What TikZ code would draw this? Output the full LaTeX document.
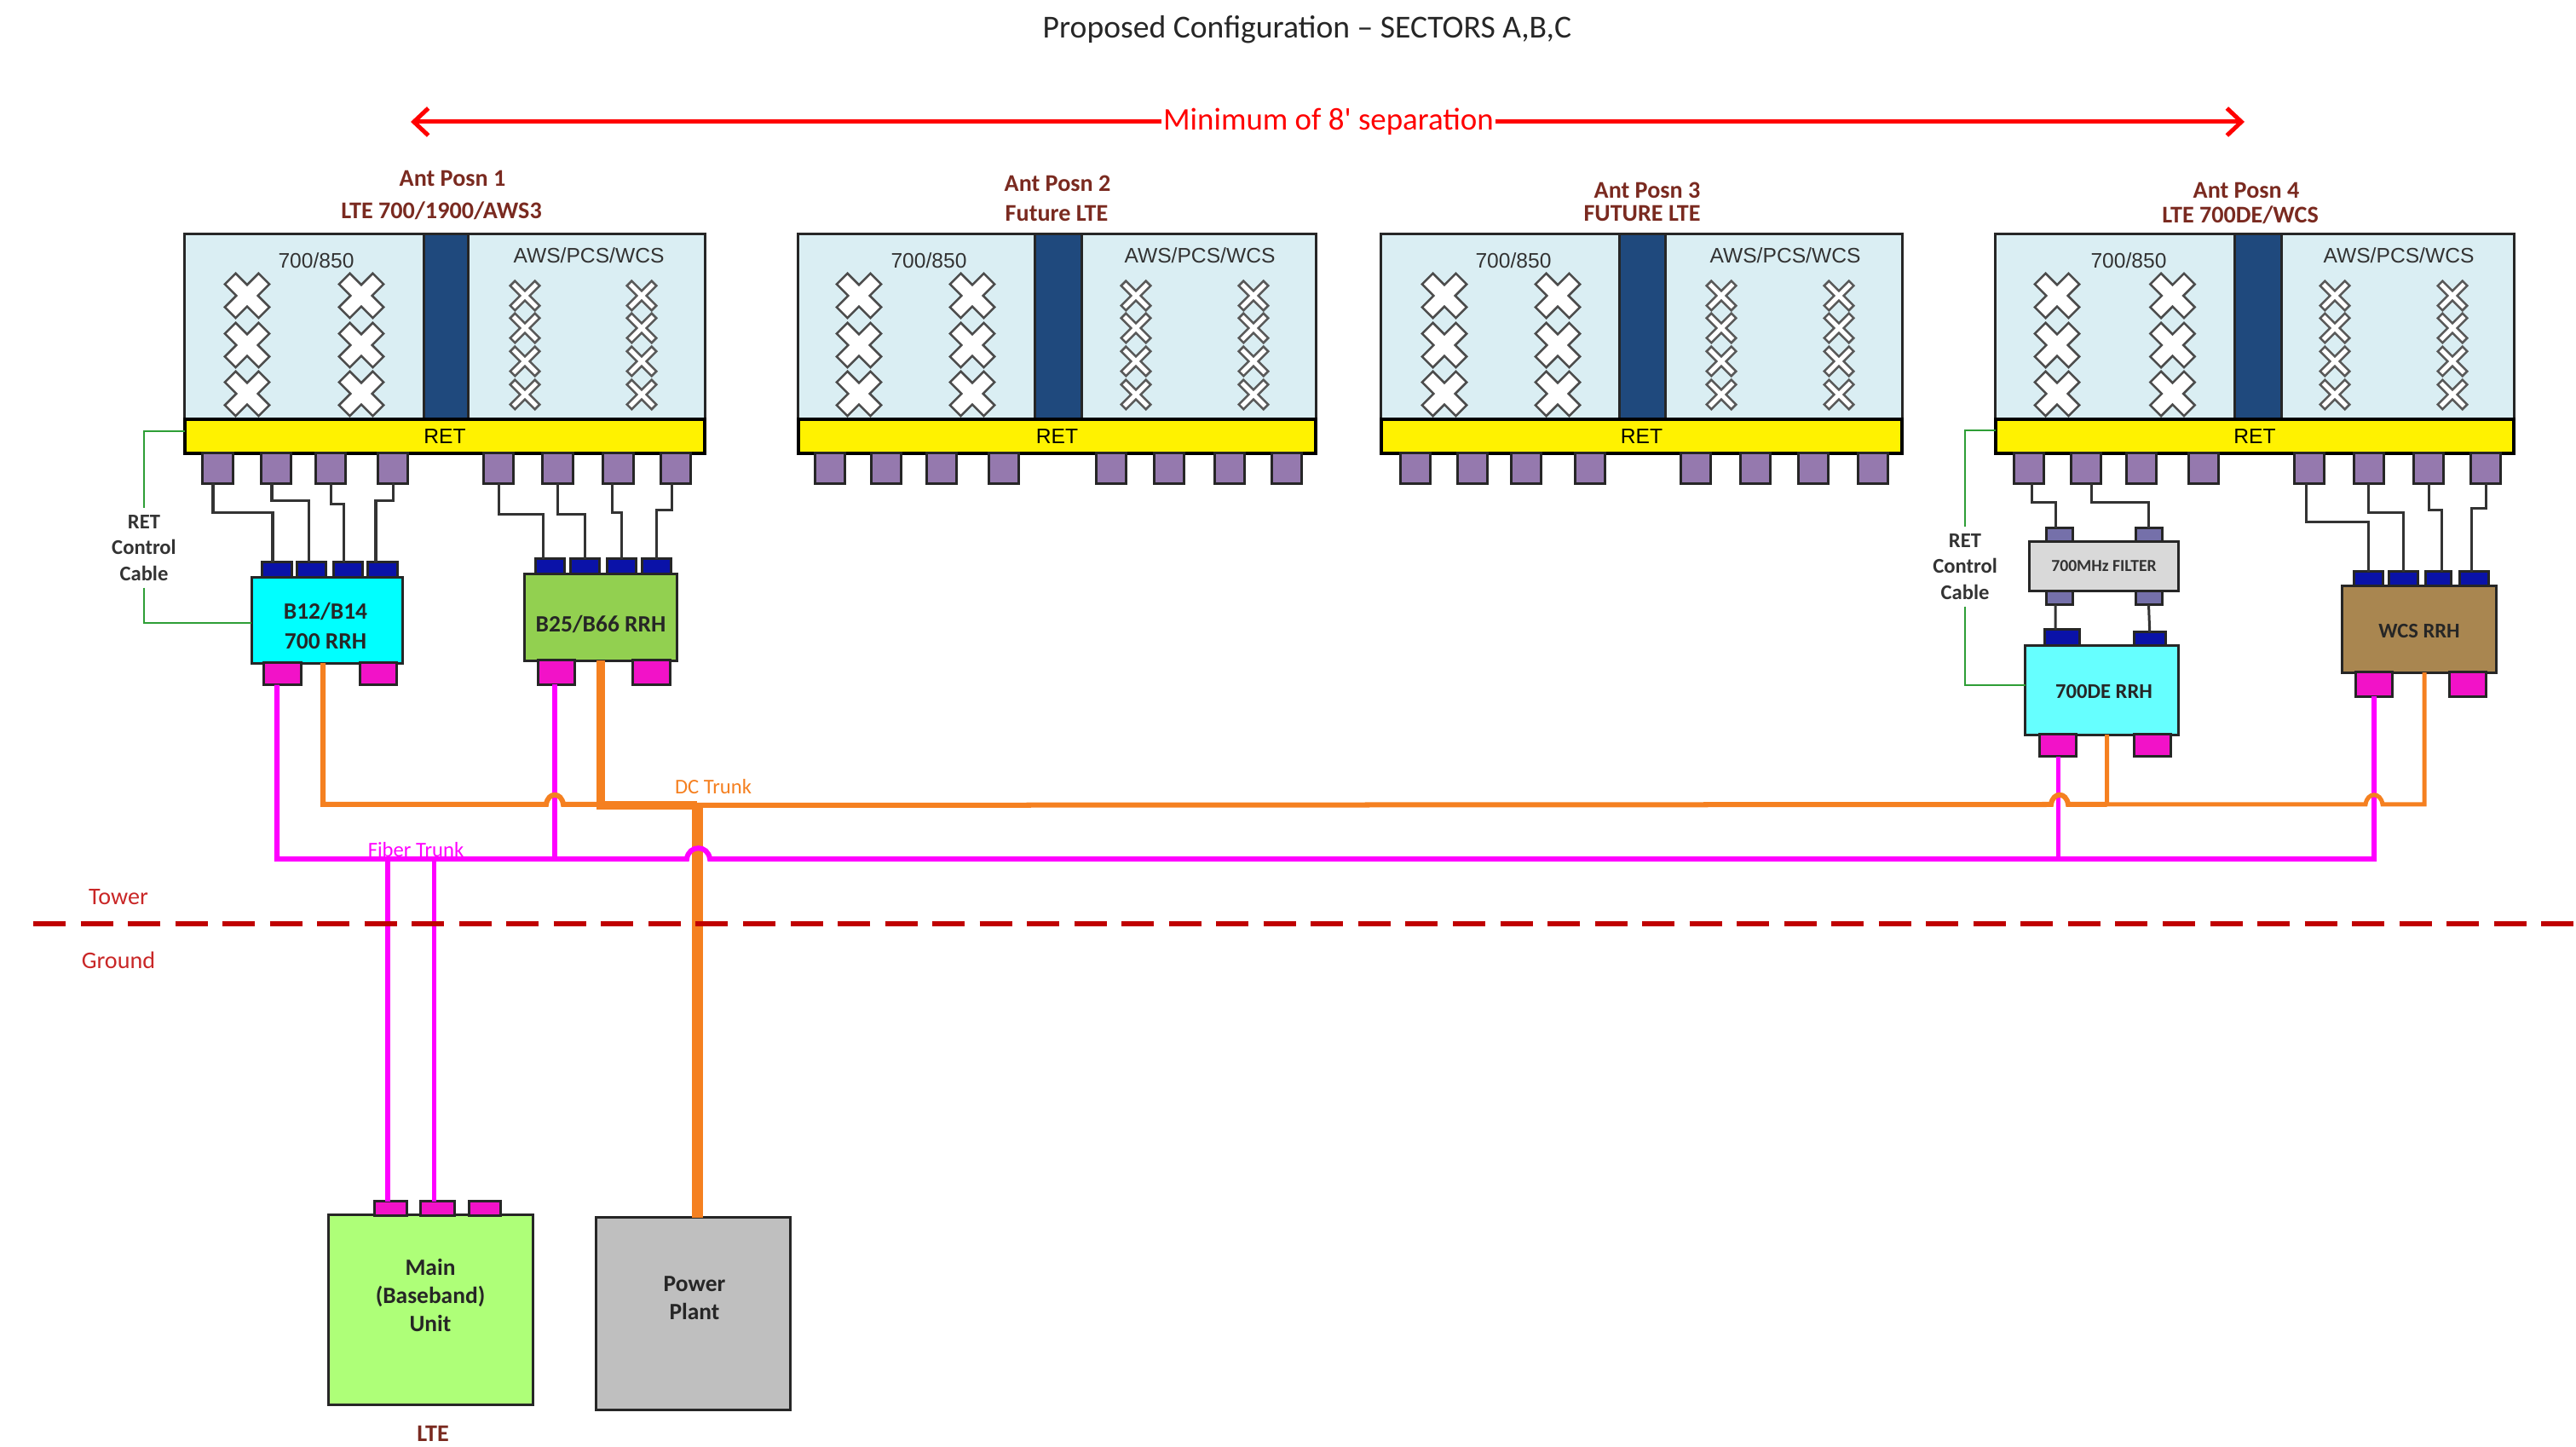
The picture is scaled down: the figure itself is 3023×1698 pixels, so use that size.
\documentclass[tikz,border=0pt]{standalone}
\usepackage{fontspec}
\usepackage{xcolor}
\usetikzlibrary{arrows.meta}
\setmainfont{Carlito}
\newfontfamily\arialfont{Liberation Sans}
\definecolor{panelblue}{HTML}{DAEEF3}
\definecolor{barblue}{HTML}{1F497D}
\definecolor{antpurple}{HTML}{9579AE}
\definecolor{rrhblue}{HTML}{0A12A8}
\definecolor{filterport}{HTML}{7570AA}
\definecolor{rrhcyan}{HTML}{00FFFF}
\definecolor{rrhcyanlt}{HTML}{66FFFF}
\definecolor{rrhgreen}{HTML}{92D050}
\definecolor{rrhbrown}{HTML}{A98650}
\definecolor{bbugreen}{HTML}{AEFF78}
\definecolor{portpink}{HTML}{F212C8}
\definecolor{fiberpink}{HTML}{FF00FF}
\definecolor{dcorange}{HTML}{F58020}
\definecolor{ctlgreen}{HTML}{2E9E36}
\definecolor{titlered}{HTML}{7A2A20}
\definecolor{groundred}{HTML}{C00000}
\definecolor{redline}{HTML}{FF0000}
\tikzset{
  box/.style={rectangle,draw=black!85,line width=.03cm,inner sep=0pt,outer sep=0pt},
  panel/.style={box,fill=panelblue,minimum height=2.17cm},
  bluebar/.style={box,fill=barblue,minimum height=2.17cm},
  retbar/.style={box,fill=yellow,draw=black,line width=.035cm,minimum height=.4cm,font=\arialfont\fontsize{7}{8}\selectfont},
  antport/.style={box,fill=antpurple,minimum width=.35cm,minimum height=.35cm},
  rrhport/.style={box,fill=rrhblue,minimum width=.34cm,minimum height=.18cm},
  fltport/.style={box,fill=filterport,minimum width=.31cm,minimum height=.16cm},
  pinkport/.style={box,fill=portpink,minimum width=.43cm,minimum height=.26cm},
  bandtxt/.style={font=\arialfont\fontsize{7}{8}\selectfont,text=black!80,inner sep=0pt},
  anttxt/.style={font=\fontsize{8}{9}\selectfont\bfseries,text=titlered,inner sep=0pt},
  boxtxt/.style={font=\fontsize{7.8}{9}\selectfont\bfseries,text=black!85,inner sep=0pt},
  cabletxt/.style={font=\fontsize{7}{8.6}\selectfont\bfseries,text=black!80,align=center,inner sep=0pt,minimum height=.92cm},
  sitetxt/.style={font=\fontsize{8}{9}\selectfont,text=groundred!85,inner sep=0pt},
  wire/.style={draw=black!80,line width=.03cm},
  ctl/.style={draw=ctlgreen,line width=.028cm},
  fiber/.style={draw=fiberpink,line width=.06cm},
  fiberthin/.style={draw=fiberpink,line width=.05cm},
  dc/.style={draw=dcorange,line width=.06cm},
  dcthick/.style={draw=dcorange,line width=.1cm},
  bigx/.pic={\draw[fill=white,draw=black!70,line width=.025cm,rotate=45]
    (9,28) -- (-9,28) -- (-9,9) -- (-28,9) -- (-28,-9) -- (-9,-9) -- (-9,-28) -- (9,-28) -- (9,-9) -- (28,-9) -- (28,9) -- (9,9) -- cycle;},
  smallx/.pic={\draw[fill=white,draw=black!65,line width=.025cm,rotate=45]
    (4,20.5) -- (-4,20.5) -- (-4,4) -- (-20.5,4) -- (-20.5,-4) -- (-4,-4) -- (-4,-20.5) -- (4,-20.5) -- (4,-4) -- (20.5,-4) -- (20.5,4) -- (4,4) -- cycle;}
}
\begin{document}
\begin{tikzpicture}[x=.01cm,y=-.01cm]
\useasboundingbox (0,0) rectangle (3023,1698);
\node[inner sep=0pt,font=\fontsize{10.7}{12}\selectfont,text=black!85] (title) at (1534,35) {Proposed Configuration -- SECTORS A,B,C};
\node[inner sep=.5pt,font=\fontsize{10.5}{12}\selectfont,text=redline] (sepn) at (1559,143) {Minimum of 8\textquotesingle{} separation};
\coordinate (sepl) at (482,143);
\coordinate (sepr) at (2634,143);
\draw[redline,line width=.05cm,-{Straight Barb[length=.17cm,width=.32cm]}] (sepn) -- (sepl);
\draw[redline,line width=.05cm,-{Straight Barb[length=.17cm,width=.32cm]}] (sepn) -- (sepr);
% antenna titles
\node[anttxt] (at1a) at (531,209) {Ant Posn 1};
\node[anttxt] (at1b) at (518,247) {LTE 700/1900/AWS3};
\node[anttxt] (at2a) at (1241,215) {Ant Posn 2};
\node[anttxt] (at2b) at (1240,250) {Future LTE};
\node[anttxt] (at3a) at (1933,223) {Ant Posn 3};
\node[anttxt] (at3b) at (1927,250) {FUTURE LTE};
\node[anttxt] (at4a) at (2636,223) {Ant Posn 4};
\node[anttxt] (at4b) at (2629,252) {LTE 700DE/WCS};
% antennas
\node[panel,minimum width=6.1cm] (a1) at (522,383.5) {};
\node[bluebar,minimum width=.51cm] (a1b) at (523.5,383.5) {};
\node[retbar,minimum width=6.1cm] (a1r) at (522,512) {RET};
\node[panel,minimum width=6.07cm] (a2) at (1240.5,383.5) {};
\node[bluebar,minimum width=.54cm] (a2b) at (1242,383.5) {};
\node[retbar,minimum width=6.07cm] (a2r) at (1240.5,512) {RET};
\node[panel,minimum width=6.11cm] (a3) at (1926.5,383.5) {};
\node[bluebar,minimum width=.54cm] (a3b) at (1927,383.5) {};
\node[retbar,minimum width=6.11cm] (a3r) at (1926.5,512) {RET};
\node[panel,minimum width=6.08cm] (a4) at (2646,383.5) {};
\node[bluebar,minimum width=.55cm] (a4b) at (2649.5,383.5) {};
\node[retbar,minimum width=6.08cm] (a4r) at (2646,512) {RET};
\node[bandtxt] (a1lo) at (371,306) {700/850};
\node[bandtxt] (a1hi) at (691,300) {AWS/PCS/WCS};
\node[bandtxt] (a2lo) at (1090,306) {700/850};
\node[bandtxt] (a2hi) at (1408,300) {AWS/PCS/WCS};
\node[bandtxt] (a3lo) at (1776,306) {700/850};
\node[bandtxt] (a3hi) at (2095,300) {AWS/PCS/WCS};
\node[bandtxt] (a4lo) at (2498,306) {700/850};
\node[bandtxt] (a4hi) at (2815,300) {AWS/PCS/WCS};
\foreach \x in {290,424,1008,1141,1695,1828,2414,2549.5}
  \foreach \y in {347,405,462}
    \pic at (\x,\y) {bigx};
\foreach \x in {616,753,1333,1471,2020,2158,2740,2878}
  \foreach \y in {347,385,424,463}
    \pic at (\x,\y) {smallx};
% antenna ports
\node[antport] (a1p1) at (255.5,549.5) {};
\node[antport] (a1p2) at (324,549.5) {};
\node[antport] (a1p3) at (388,549.5) {};
\node[antport] (a1p4) at (461,549.5) {};
\node[antport] (a1p5) at (585,549.5) {};
\node[antport] (a1p6) at (654.5,549.5) {};
\node[antport] (a1p7) at (725.5,549.5) {};
\node[antport] (a1p8) at (793,549.5) {};
\node[antport] (a2p1) at (973.75,549.5) {};
\node[antport] (a2p2) at (1040,549.5) {};
\node[antport] (a2p3) at (1105,549.5) {};
\node[antport] (a2p4) at (1178,549.5) {};
\node[antport] (a2p5) at (1303.5,549.5) {};
\node[antport] (a2p6) at (1372,549.5) {};
\node[antport] (a2p7) at (1443,549.5) {};
\node[antport] (a2p8) at (1509.5,549.5) {};
\node[antport] (a3p1) at (1660.5,549.5) {};
\node[antport] (a3p2) at (1728,549.5) {};
\node[antport] (a3p3) at (1790.5,549.5) {};
\node[antport] (a3p4) at (1865.5,549.5) {};
\node[antport] (a3p5) at (1990,549.5) {};
\node[antport] (a3p6) at (2060,549.5) {};
\node[antport] (a3p7) at (2127.5,549.5) {};
\node[antport] (a3p8) at (2197.5,549.5) {};
\node[antport] (a4p1) at (2380.5,549.5) {};
\node[antport] (a4p2) at (2448,549.5) {};
\node[antport] (a4p3) at (2513,549.5) {};
\node[antport] (a4p4) at (2586,549.5) {};
\node[antport] (a4p5) at (2710,549.5) {};
\node[antport] (a4p6) at (2779.5,549.5) {};
\node[antport] (a4p7) at (2850,549.5) {};
\node[antport] (a4p8) at (2917,549.5) {};
% radios
\node[box,fill=rrhcyan,minimum width=1.775cm,minimum height=1cm] (rb1) at (384,728) {};
\node[boxtxt,align=center] (rb1t) at (382,734.5) {B12/B14\\[.9pt]700 RRH};
\node[rrhport] (rb1a) at (325,669) {};
\node[rrhport] (rb1b) at (365.5,669) {};
\node[rrhport] (rb1c) at (408.5,669) {};
\node[rrhport] (rb1d) at (449,669) {};
\node[pinkport] (rb1f) at (331.5,790.5) {};
\node[pinkport] (rb1g) at (444,790.5) {};
\node[box,fill=rrhgreen,minimum width=1.78cm,minimum height=1.01cm] (rb2) at (705,724.5) {};
\node[boxtxt] (rb2t) at (705,733) {B25/B66 RRH};
\node[rrhport] (rb2a) at (645.5,665) {};
\node[rrhport] (rb2b) at (686.5,665) {};
\node[rrhport] (rb2c) at (729.5,665) {};
\node[rrhport] (rb2d) at (770.5,665) {};
\node[pinkport,minimum height=.28cm] (rb2f) at (653,789) {};
\node[pinkport,minimum height=.28cm] (rb2g) at (764.5,789) {};
\node[box,fill=black!15,minimum width=1.74cm,minimum height=.57cm,text=black!80,font=\fontsize{5.6}{7}\selectfont\bfseries] (flt) at (2469,664.5) {700MHz FILTER};
\node[fltport] (flta) at (2416.5,628) {};
\node[fltport] (fltb) at (2521.5,628) {};
\node[fltport] (fltc) at (2416.5,701.5) {};
\node[fltport] (fltd) at (2521.5,701.5) {};
\node[box,fill=rrhcyanlt,minimum width=1.79cm,minimum height=1.04cm] (rb3) at (2466.5,810) {};
\node[boxtxt,font=\fontsize{7}{9}\selectfont\bfseries] (rb3t) at (2469,812) {700DE RRH};
\node[rrhport,minimum width=.41cm,minimum height=.19cm] (rb3a) at (2419.5,748.5) {};
\node[rrhport,minimum width=.37cm,minimum height=.16cm] (rb3b) at (2522.75,750) {};
\node[pinkport] (rb3f) at (2415,874.5) {};
\node[pinkport] (rb3g) at (2526,874.5) {};
\node[box,fill=rrhbrown,minimum width=1.8cm,minimum height=1.01cm] (rb4) at (2839,738.5) {};
\node[boxtxt,font=\fontsize{7}{9}\selectfont\bfseries] (rb4t) at (2839,741) {WCS RRH};
\node[rrhport,minimum height=.17cm] (rb4a) at (2779,679.5) {};
\node[rrhport,minimum height=.17cm] (rb4b) at (2820,679.5) {};
\node[rrhport,minimum width=.3cm,minimum height=.17cm] (rb4c) at (2861,679.5) {};
\node[rrhport,minimum height=.17cm] (rb4d) at (2903.5,679.5) {};
\node[pinkport,minimum height=.28cm] (rb4f) at (2786,803) {};
\node[pinkport,minimum height=.28cm] (rb4g) at (2895.5,803) {};
% jumper wires
\draw[wire] ([xshift=-.055cm]a1p1.south) -- ++(0,34) -| ([xshift=-.05cm]rb1a.north);
\draw[wire] ([xshift=-.05cm]a1p2.south) -- ++(0,20) -| ([xshift=-.03cm]rb1b.north);
\draw[wire] (a1p3.south) -- ++(0,24) -| ([xshift=-.055cm]rb1c.north);
\draw[wire] (a1p4.south) -- ++(0,20) -| ([xshift=-.08cm]rb1d.north);
\draw[wire] (a1p5.south) -- ++(0,36) -| ([xshift=-.08cm]rb2a.north);
\draw[wire] (a1p6.south) -- ++(0,36) -| (rb2b.north);
\draw[wire] ([xshift=-.075cm]a1p7.south) -- ++(0,34) -| (rb2c.north);
\draw[wire] ([xshift=-.05cm]a1p8.south) -- ++(0,31) -| (rb2d.north);
\draw[wire] ([xshift=.04cm]a4p1.south) -- ++(0,22) -| ([xshift=-.045cm]flta.north);
\draw[wire] ([xshift=.06cm]a4p2.south) -- ++(0,22) -| (fltb.north);
\draw[wire] ([xshift=-.045cm]fltc.south) -- ([xshift=-.075cm]rb3a.north);
\draw[wire] (fltd.south) -- (rb3b.north);
\draw[wire] ([xshift=-.04cm]a4p5.south) -- ++(0,45) -| (rb4a.north);
\draw[wire] (a4p6.south) -- ++(0,34) -| (rb4b.north);
\draw[wire] (a4p7.south) -- ++(0,31) -| ([xshift=.04cm]rb4c.north);
\draw[wire] (a4p8.south) -- ++(0,29) -| ([xshift=-.035cm]rb4d.north);
% ret control cables
\node[cabletxt] (cb1) at (169,643) {RET\\Control\\Cable};
\node[cabletxt] (cb4) at (2306,665) {RET\\Control\\Cable};
\draw[ctl] ([yshift=.06cm]a1r.west) -| (cb1.north);
\draw[ctl] (cb1.south) |- ([yshift=-.03cm]rb1.west);
\draw[ctl] ([yshift=.07cm]a4r.west) -| (cb4.north);
\draw[ctl] (cb4.south) |- ([yshift=.06cm]rb3.west);
% ground equipment
\node[box,fill=bbugreen,minimum width=2.39cm,minimum height=2.22cm] (bbu) at (505.5,1537) {};
\node[boxtxt,align=center] (bbut) at (505,1520) {Main\\[.5pt](Baseband)\\[.5pt]Unit};
\node[pinkport,minimum width=.37cm,minimum height=.16cm] (bbua) at (458.5,1418) {};
\node[pinkport,minimum width=.39cm,minimum height=.16cm] (bbub) at (513.5,1418) {};
\node[pinkport,minimum width=.36cm,minimum height=.16cm] (bbuc) at (569,1418) {};
\node[anttxt] (bbul) at (508,1682) {LTE};
\node[box,fill=black!25,minimum width=2.27cm,minimum height=2.25cm] (pwr) at (813.5,1541.5) {};
\node[boxtxt,align=center] (pwrt) at (815,1523) {Power\\[.5pt]Plant};
% dc and fiber trunks
\coordinate (dcj) at (818,945);
\coordinate (jmpa) at (651,944);
\coordinate (jmpb) at (819.5,1008);
\coordinate (jmpc) at (2417,944);
\coordinate (jmpd) at (2786,944);
\draw[dcthick,line width=.13cm] (dcj) -- (dcj |- pwr.north);
\draw[fiber] ([xshift=-.065cm]rb1f.south) |- ([xshift=-.135cm]jmpb) .. controls +(2,-17) and +(-2,-17) .. ([xshift=.135cm]jmpb) -| (rb4f.south);
\draw[fiber] ([xshift=-.02cm]rb2f.south) -- ([xshift=-.02cm]rb2f.south |- jmpb);
\draw[fiberthin] (rb3f.south) -- (rb3f.south |- jmpb);
\draw[fiber] ([xshift=-.035cm]bbua.north |- jmpb) -- ([xshift=-.035cm]bbua.north);
\draw[fiberthin] ([xshift=-.045cm]bbub.north |- jmpb) -- ([xshift=-.045cm]bbub.north);
\draw[dc] ([xshift=-.05cm]rb1.south) |- ([xshift=-.1cm]jmpa) .. controls +(2,-15) and +(-2,-15) .. ([xshift=.1cm]jmpa) -- (rb2.south |- jmpa);
\draw[dcthick] (rb2.south) |- (dcj);
\draw[dc] (dcj) -- ([xshift=-.1cm]jmpc) .. controls +(2,-15) and +(-2,-15) .. ([xshift=.1cm]jmpc) -- ([xshift=.06cm]rb3.south |- jmpc);
\draw[dc,line width=.05cm] ([xshift=.06cm]rb3.south) |- ([xshift=-.1cm]jmpd) .. controls +(2,-15) and +(-2,-15) .. ([xshift=.1cm]jmpd) -| ([xshift=.06cm]rb4.south);
\node[inner sep=0pt,font=\fontsize{7}{8}\selectfont,text=fiberpink] (fibert) at (488,997) {Fiber Trunk};
\node[inner sep=0pt,font=\fontsize{7}{8}\selectfont,text=dcorange] (dct) at (837,923) {DC Trunk};
% tower and ground
\coordinate (grl) at (39,1084);
\coordinate (grr) at (3023,1084);
\draw[groundred,line width=.055cm,dash pattern=on .38cm off .175cm] (grl) -- (grr);
\node[sitetxt] (tower) at (139,1053) {Tower};
\node[sitetxt] (ground) at (139,1127) {Ground};
\end{tikzpicture}
\end{document}
